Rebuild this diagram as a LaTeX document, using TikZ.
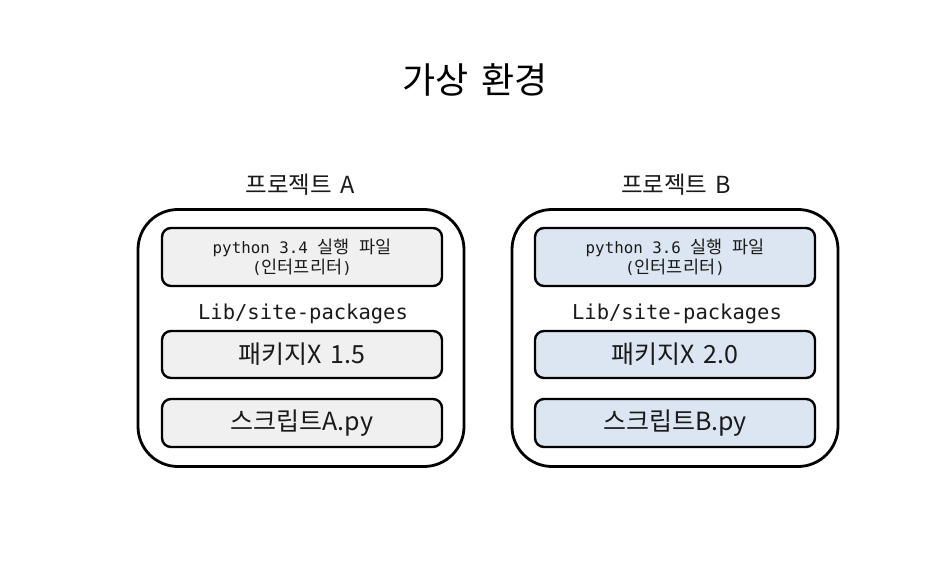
\documentclass[tikz,border=0pt]{standalone}
\usepackage{fontspec}
\setmainfont{Noto Sans CJK KR}[WordSpace=1.5]
\newfontfamily\monof{DejaVu Sans Mono}
\definecolor{boxgray}{HTML}{F0F0F0}
\definecolor{boxblue}{HTML}{DCE6F2}
\definecolor{txt}{HTML}{1A1A1A}
\begin{document}
\begin{tikzpicture}[x=1pt,y=-1pt,
  outerbox/.style={draw=black,line width=2.8pt,rounded corners=40pt,minimum width=326pt,minimum height=257pt,inner sep=0pt},
  innerbox/.style={draw=black,line width=2.4pt,rounded corners=9pt,minimum width=280pt,inner sep=0pt,text=txt,align=center},
  grayfill/.style={fill=boxgray},
  bluefill/.style={fill=boxblue},
  pyline/.style={font=\fontsize{17.5}{20}\selectfont},
  pkgtext/.style={font=\fontsize{25}{28}\selectfont},
  libtext/.style={font=\monof\fontsize{20.5}{24}\selectfont,text=txt,inner sep=0pt},
  projtext/.style={font=\fontsize{23.5}{26}\selectfont,text=txt,inner sep=0pt},
  titletext/.style={font=\fontsize{36}{40}\selectfont,text=black,inner sep=0pt}
]
\useasboundingbox[fill=white] (0,0) rectangle (945,577);

\node[titletext] (title) at (475,80) {가상 환경};

% Project A
\node[projtext] (projA) at (300,185) {프로젝트 A};
\node[outerbox] (outerA) at (301,338) {};
\node[innerbox,grayfill,minimum height=58pt,pyline] (pyA) at (302,257) {{\monof\fontsize{15.8}{20}\selectfont python 3.4 }실행{\monof\fontsize{15.8}{20}\selectfont\ }파일\\{\monof\fontsize{15.8}{20}\selectfont(}인터프리터{\monof\fontsize{15.8}{20}\selectfont)}};
\node[libtext] (libA) at (303,314) {Lib/site-packages};
\node[innerbox,grayfill,minimum height=47pt,pkgtext] (pkgA) at (302,354.5) {패키지X 1.5};
\node[innerbox,grayfill,minimum height=48pt,pkgtext] (scrA) at (302,423) {스크립트A.py};

% Project B
\node[projtext] (projB) at (676,185) {프로젝트 B};
\node[outerbox] (outerB) at (675,338) {};
\node[innerbox,bluefill,minimum height=58pt,pyline] (pyB) at (675,257) {{\monof\fontsize{15.8}{20}\selectfont python 3.6 }실행{\monof\fontsize{15.8}{20}\selectfont\ }파일\\{\monof\fontsize{15.8}{20}\selectfont(}인터프리터{\monof\fontsize{15.8}{20}\selectfont)}};
\node[libtext] (libB) at (677,314) {Lib/site-packages};
\node[innerbox,bluefill,minimum height=47pt,pkgtext] (pkgB) at (675,354.5) {패키지X 2.0};
\node[innerbox,bluefill,minimum height=48pt,pkgtext] (scrB) at (675,423) {스크립트B.py};
\end{tikzpicture}
\end{document}
